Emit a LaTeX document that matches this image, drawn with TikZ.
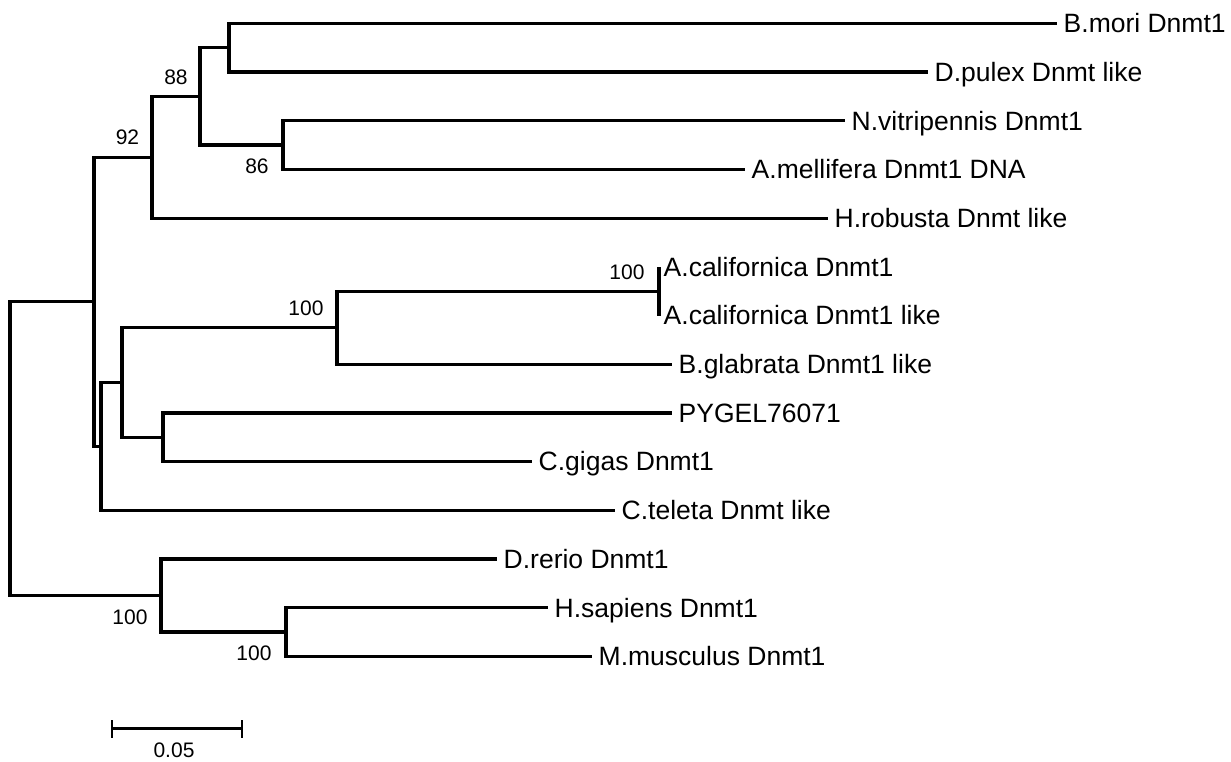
\documentclass[tikz,border=0pt]{standalone}
\usepackage{fontspec}
\setmainfont{Liberation Sans}
\begin{document}
\begin{tikzpicture}[x=1pt,y=-1pt,
  branch/.style={line width=3.2pt, line join=miter, line cap=butt},
  taxon/.style={anchor=base west, inner sep=0pt, xshift=6.5pt, yshift=-9.3pt,
                font=\fontsize{26.5}{32}\selectfont},
  boot/.style={inner sep=0pt, font=\fontsize{21}{25}\selectfont},
]
\useasboundingbox (0,0) rectangle (1231,761);

% internal nodes of the tree
\coordinate (root) at (10,448.6);
\coordinate (n1)   at (94,301.8);
\coordinate (n92)  at (152,157.2);
\coordinate (n88)  at (200,96.3);
\coordinate (nBD)  at (229,47.7);
\coordinate (n86)  at (283,145);
\coordinate (n2)   at (101,446.4);
\coordinate (n3)   at (122,382.5);
\coordinate (nAp)  at (337,327.7);
\coordinate (nAC)  at (659,291.2);
\coordinate (n4)   at (163,437.3);
\coordinate (n5)   at (161,595.5);
\coordinate (n6)   at (286,632);

% branch tips
\coordinate (tBmo) at (1057,23.3);
\coordinate (tDpu) at (928,72);
\coordinate (tNvi) at (845,120.7);
\coordinate (tAme) at (745,169.4);
\coordinate (tHro) at (828,218.1);
\coordinate (tAc1) at (659,266.8);
\coordinate (tAc2) at (659,315.5);
\coordinate (tBgl) at (672,364.2);
\coordinate (tPyg) at (672,412.9);
\coordinate (tCgi) at (532,461.6);
\coordinate (tCte) at (615,510.3);
\coordinate (tDre) at (497,559);
\coordinate (tHsa) at (548,607.7);
\coordinate (tMmu) at (592,656.4);

% branches
\draw[branch] (root) |- (n1);
\draw[branch] (root) |- (n5);
\draw[branch] (n1) |- (n92);
\draw[branch] (n1) |- (n2);
\draw[branch] (n92) |- (n88);
\draw[branch] (n92) |- (tHro);
\draw[branch] (n88) |- (nBD);
\draw[branch] (n88) |- (n86);
\draw[branch] (nBD) |- (tBmo);
\draw[branch] (nBD) |- (tDpu);
\draw[branch] (n86) |- (tNvi);
\draw[branch] (n86) |- (tAme);
\draw[branch] (n2) |- (n3);
\draw[branch] (n2) |- (tCte);
\draw[branch] (n3) |- (nAp);
\draw[branch] (n3) |- (n4);
\draw[branch] (nAp) |- (nAC);
\draw[branch] (nAp) |- (tBgl);
\draw[branch] (nAC) |- (tAc1);
\draw[branch] (nAC) |- (tAc2);
\draw[branch] (n4) |- (tPyg);
\draw[branch] (n4) |- (tCgi);
\draw[branch] (n5) |- (tDre);
\draw[branch] (n5) |- (n6);
\draw[branch] (n6) |- (tHsa);
\draw[branch] (n6) |- (tMmu);

% taxon labels
\node[taxon] (lBmo) at (tBmo) {B.mori Dnmt1};
\node[taxon] (lDpu) at (tDpu) {D.pulex Dnmt like};
\node[taxon] (lNvi) at (tNvi) {N.vitripennis Dnmt1};
\node[taxon] (lAme) at (tAme) {A.mellifera Dnmt1 DNA};
\node[taxon] (lHro) at (tHro) {H.robusta Dnmt like};
\node[taxon, xshift=-2pt] (lAc1) at (tAc1) {A.californica Dnmt1};
\node[taxon, xshift=-2pt] (lAc2) at (tAc2) {A.californica Dnmt1 like};
\node[taxon] (lBgl) at (tBgl) {B.glabrata Dnmt1 like};
\node[taxon] (lPyg) at (tPyg) {PYGEL76071};
\node[taxon] (lCgi) at (tCgi) {C.gigas Dnmt1};
\node[taxon] (lCte) at (tCte) {C.teleta Dnmt like};
\node[taxon] (lDre) at (tDre) {D.rerio Dnmt1};
\node[taxon] (lHsa) at (tHsa) {H.sapiens Dnmt1};
\node[taxon] (lMmu) at (tMmu) {M.musculus Dnmt1};

% bootstrap values
\node[boot] (b88)  at (176,77)    {88};
\node[boot] (b92)  at (127.5,137) {92};
\node[boot] (b86)  at (257,166)   {86};
\node[boot] (bAp)  at (306,308)   {100};
\node[boot] (bAC)  at (627,272)   {100};
\node[boot] (b5)   at (130,617)   {100};
\node[boot] (b6)   at (254,653)   {100};

% scale bar
\coordinate (sL) at (112,728.5);
\coordinate (sR) at (242,728.5);
\draw[branch, line width=2.8pt] (sL) -- (sR);
\draw[branch, line width=2.8pt] ([yshift=8.5pt]sL) -- ([yshift=-9.5pt]sL);
\draw[branch, line width=2.8pt] ([yshift=8.5pt]sR) -- ([yshift=-9.5pt]sR);
\node[boot] (sLabel) at (174,750.5) {0.05};
\end{tikzpicture}
\end{document}
